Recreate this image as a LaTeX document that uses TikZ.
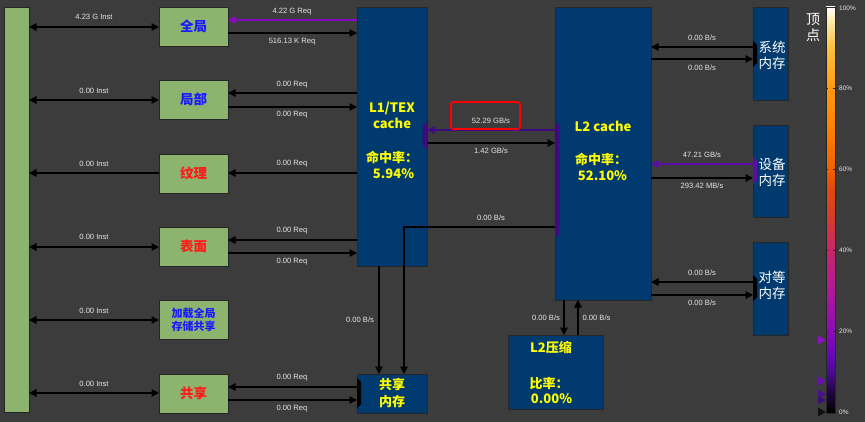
\documentclass[tikz,border=0pt]{standalone}
\usepackage{fontspec}
\setmainfont{Liberation Sans}
\newfontfamily\cjk{Noto Sans CJK SC}
\usetikzlibrary{arrows.meta}
\definecolor{bgc}{HTML}{3C3C3C}
\definecolor{edgec}{HTML}{262626}
\definecolor{grn}{HTML}{8DB46E}
\definecolor{blu}{HTML}{013A6F}
\definecolor{tblue}{HTML}{1A1AFF}
\definecolor{tred}{HTML}{FF1A1A}
\definecolor{tyel}{HTML}{FFFF00}
\definecolor{labc}{HTML}{E6E6E6}
\definecolor{pA}{HTML}{8A0BC4}
\definecolor{pB}{HTML}{3E0A80}
\definecolor{pC}{HTML}{5B0EA6}
\definecolor{cbA}{HTML}{1E0640}
\definecolor{cbB}{HTML}{4A0A90}
\definecolor{cbC}{HTML}{6A08B8}
\definecolor{cbD}{HTML}{8A0CB8}
\definecolor{cbE}{HTML}{B0189A}
\definecolor{cbF}{HTML}{C8266A}
\definecolor{cbG}{HTML}{D84020}
\definecolor{cbH}{HTML}{E04A10}
\definecolor{cbI}{HTML}{F06000}
\definecolor{cbJ}{HTML}{FF8000}
\definecolor{cbK}{HTML}{FF9A10}
\definecolor{cbL}{HTML}{FFC040}
\definecolor{cbM}{HTML}{FFEEB0}
\definecolor{trA}{HTML}{8A12C0}
\definecolor{trB}{HTML}{6A10B0}
\definecolor{trC}{HTML}{4B108C}
\definecolor{trD}{HTML}{3C0C78}
\definecolor{trE}{HTML}{111111}
\pgfdeclareverticalshading{cbar}{100bp}{color(0bp)=(black); color(25bp)=(black);
 color(27.5bp)=(cbA); color(30bp)=(cbB); color(32.5bp)=(cbC); color(35bp)=(cbD);
 color(40bp)=(cbE); color(45bp)=(cbF); color(50bp)=(cbG); color(52.5bp)=(cbH);
 color(55bp)=(cbI); color(60bp)=(cbJ); color(65bp)=(cbK); color(70bp)=(cbL);
 color(73.5bp)=(cbM); color(75bp)=(white); color(100bp)=(white)}
\begin{document}
\begin{tikzpicture}[x=1pt,y=-1pt,
  box/.style={draw=edgec, line width=0.8pt, inner sep=0pt, outer sep=0pt},
  gbox/.style={box, fill=grn},
  bbox/.style={box, fill=blu},
  gsz/.style={gbox, minimum width=69, minimum height=39, font=\cjk\bfseries\fontsize{13.5}{15}\selectfont},
  memb/.style={bbox, minimum width=35, minimum height=93},
  lab/.style={font=\fontsize{7.6}{8}\selectfont, text=labc, inner sep=0pt},
  ytxt/.style={font=\cjk\bfseries\fontsize{13}{16.5}\selectfont, text=tyel, align=center, inner sep=0pt},
  wtxt/.style={font=\cjk\fontsize{13.5}{16}\selectfont, text=white, align=center, inner sep=0pt},
  cbl/.style={font=\fontsize{6.5}{7}\selectfont, text=labc, anchor=west, inner sep=0pt},
  arr/.style={line width=1.3pt, -{Triangle[length=7.5pt,width=7.5pt]}},
  dbl/.style={line width=1.3pt, {Triangle[length=7.5pt,width=7.5pt]}-{Triangle[length=7.5pt,width=7.5pt]}},
  ]
\fill[bgc] (0,0) rectangle (865,422);
\useasboundingbox (0,0) rectangle (865,422);

% left bar and source boxes
\node[gbox, minimum width=25, minimum height=405] (bar) at (16.5,209.5) {};
\node[gsz, text=tblue] (gq) at (193.5,26.5) {全局};
\node[gsz, text=tblue] (jb) at (193.5,99.5) {局部};
\node[gsz, text=tred] (wl) at (193.5,173.5) {纹理};
\node[gsz, text=tred] (bm) at (193.5,246.5) {表面};
\node[gsz, text=tblue, font=\cjk\bfseries\fontsize{11}{13.5}\selectfont, align=center] (jz) at (193.5,320) {加载全局\\存储共享};
\node[gsz, text=tred] (gx) at (193.5,393.5) {共享};

% caches and memories
\node[bbox, minimum width=70, minimum height=259] (l1) at (392,136.5) {};
\node[bbox, minimum width=70, minimum height=39] (sm) at (392,393.5) {};
\node[bbox, minimum width=96, minimum height=293] (l2) at (603,153.5) {};
\node[memb] (sys) at (770.5,53.5) {};
\node[memb, minimum height=92] (dev) at (770.5,171) {};
\node[memb] (peer) at (770.5,288.5) {};
\node[bbox, minimum width=95, minimum height=74] (cmp) at (555.5,372) {};

% box texts
\node[ytxt] (l1a) at (392,115.5) {L1/TEX\\cache};
\node[ytxt] (l1b) at (392,165) {命中率：\\\hspace*{3pt}5.94\%};
\node[ytxt] (l2a) at (603,126) {L2 cache};
\node[ytxt] (l2b) at (601,167) {命中率：\\\hspace*{3pt}52.10\%};
\node[ytxt, font=\cjk\bfseries\fontsize{13}{17}\selectfont] (smt) at (392,393.5) {共享\\内存};
\node[ytxt] (cmpa) at (551,348) {L2压缩};
\node[ytxt, font=\cjk\bfseries\fontsize{13}{15}\selectfont] (cmpb) at (549,390.5) {比率：\\\hspace*{5pt}0.00\%};
\node[wtxt] (syst) at (772,55) {系统\\内存};
\node[wtxt] (devt) at (772,172) {设备\\内存};
\node[wtxt] (peert) at (772,285) {对等\\内存};

% port brackets
\fill[pB] (427,122) -- (427,149) -- (422.5,145) -- (422.5,126) -- cycle;
\fill[pB] (555,121) -- (555,238) -- (559,234) -- (559,125) -- cycle;
\fill[black] (753,41) -- (753,67) -- (757,63) -- (757,45) -- cycle;
\fill[pC] (753,157) -- (753,184) -- (757,180) -- (757,161) -- cycle;
\fill[black] (753,275) -- (753,301) -- (757,297) -- (757,279) -- cycle;
\fill[black] (357,378) -- (357,408) -- (361,404) -- (361,382) -- cycle;

% left arrows
\draw[dbl] (bar.east |- 0,27) -- (gq.west |- 0,27);
\draw[dbl] (bar.east |- 0,100) -- (jb.west |- 0,100);
\draw[arr] (wl.west |- 0,173) -- (bar.east |- 0,173);
\draw[dbl] (bar.east |- 0,247) -- (bm.west |- 0,247);
\draw[dbl] (bar.east |- 0,320) -- (jz.west |- 0,320);
\draw[dbl] (bar.east |- 0,393) -- (gx.west |- 0,393);

% middle arrows
\draw[arr, pA] (l1.west |- 0,20) -- (gq.east |- 0,20);
\draw[arr] (gq.east |- 0,33) -- (l1.west |- 0,33);
\draw[arr] (l1.west |- 0,93) -- (jb.east |- 0,93);
\draw[arr] (jb.east |- 0,107) -- (l1.west |- 0,107);
\draw[arr] (l1.west |- 0,173) -- (wl.east |- 0,173);
\draw[arr] (l1.west |- 0,240) -- (bm.east |- 0,240);
\draw[arr] (bm.east |- 0,253) -- (l1.west |- 0,253);
\draw[arr] (sm.west |- 0,387) -- (gx.east |- 0,387);
\draw[arr] (gx.east |- 0,400) -- (sm.west |- 0,400);

% L1 <-> L2 and shared memory
\draw[arr, pB] (l2.west |- 0,130) -- (l1.east |- 0,130);
\draw[arr] (l1.east |- 0,143) -- (l2.west |- 0,143);
\draw[arr] (l2.west |- 0,227) -| (sm.north -| 404,0);
\draw[arr] (l1.south -| 379,0) -- (sm.north -| 379,0);

% L2 <-> memories
\draw[arr] (sys.west |- 0,47) -- (l2.east |- 0,47);
\draw[arr] (l2.east |- 0,59) -- (sys.west |- 0,59);
\draw[arr, pC] (dev.west |- 0,164) -- (l2.east |- 0,164);
\draw[arr] (l2.east |- 0,178) -- (dev.west |- 0,178);
\draw[arr] (peer.west |- 0,282) -- (l2.east |- 0,282);
\draw[arr] (l2.east |- 0,295) -- (peer.west |- 0,295);
\draw[arr] (l2.south -| 564,0) -- (cmp.north -| 564,0);
\draw[arr] (cmp.north -| 578,0) -- (l2.south -| 578,0);

% labels
\node[lab] (la1) at (94,17) {4.23 G Inst};
\node[lab] (la2) at (94,91) {0.00 Inst};
\node[lab] (la3) at (94,164) {0.00 Inst};
\node[lab] (la4) at (94,237) {0.00 Inst};
\node[lab] (la5) at (94,311) {0.00 Inst};
\node[lab] (la6) at (94,384) {0.00 Inst};
\node[lab] (lb1) at (292,12) {4.22 G Req};
\node[lab] (lb2) at (292,42) {516.13 K Req};
\node[lab] (lb3) at (292,85) {0.00 Req};
\node[lab] (lb4) at (292,115) {0.00 Req};
\node[lab] (lb5) at (292,164) {0.00 Req};
\node[lab] (lb6) at (292,231) {0.00 Req};
\node[lab] (lb7) at (292,262) {0.00 Req};
\node[lab] (lb8) at (292,378) {0.00 Req};
\node[lab] (lb9) at (292,409) {0.00 Req};
\node[lab] (lc1) at (491,121) {52.29 GB/s};
\node[lab] (lc2) at (491,151) {1.42 GB/s};
\node[lab] (lc3) at (491,218) {0.00 B/s};
\node[lab] (ld1) at (360,320) {0.00 B/s};
\node[lab] (le1) at (702,38) {0.00 B/s};
\node[lab] (le2) at (702,68) {0.00 B/s};
\node[lab] (le3) at (702,155) {47.21 GB/s};
\node[lab] (le4) at (702,186) {293.42 MB/s};
\node[lab] (le5) at (702,273) {0.00 B/s};
\node[lab] (le6) at (702,303) {0.00 B/s};
\node[lab] (lf1) at (546,318) {0.00 B/s};
\node[lab] (lf2) at (596.5,318) {0.00 B/s};

% highlight
\node[draw=red, line width=1.8pt, rounded corners=2.5pt, minimum width=69, minimum height=27, inner sep=0pt] (hl) at (485.5,115.5) {};

% colour bar
\node[shade, shading=cbar, draw=edgec, line width=0.8pt, minimum width=9, minimum height=406, inner sep=0pt] (cb) at (830.5,210) {};
\foreach \yy in {88,169,250,331} {
  \draw[edgec, line width=0.8pt] (826,\yy) -- (828,\yy);
  \draw[edgec, line width=0.8pt] (833,\yy) -- (837,\yy);
}
\node[cbl] (c100) at (839,8) {100\%};
\node[cbl] (c80) at (839,88) {80\%};
\node[cbl] (c60) at (839,169) {60\%};
\node[cbl] (c40) at (839,250) {40\%};
\node[cbl] (c20) at (839,331) {20\%};
\node[cbl] (c0) at (839,412) {0\%};
\node[font=\cjk\fontsize{14}{16}\selectfont, text=white, align=center, inner sep=0pt] (ttl) at (813,27) {顶\\点};
\fill[trA] (826,340) -- (818,335.5) -- (818,344.5) -- cycle;
\fill[trB] (826,381) -- (818,376.5) -- (818,385.5) -- cycle;
\fill[trC] (826,394) -- (818,389.5) -- (818,398.5) -- cycle;
\fill[trD] (826,400) -- (818,395.5) -- (818,404.5) -- cycle;
\fill[trE] (826,412) -- (818,407.5) -- (818,416.5) -- cycle;
\end{tikzpicture}
\end{document}
